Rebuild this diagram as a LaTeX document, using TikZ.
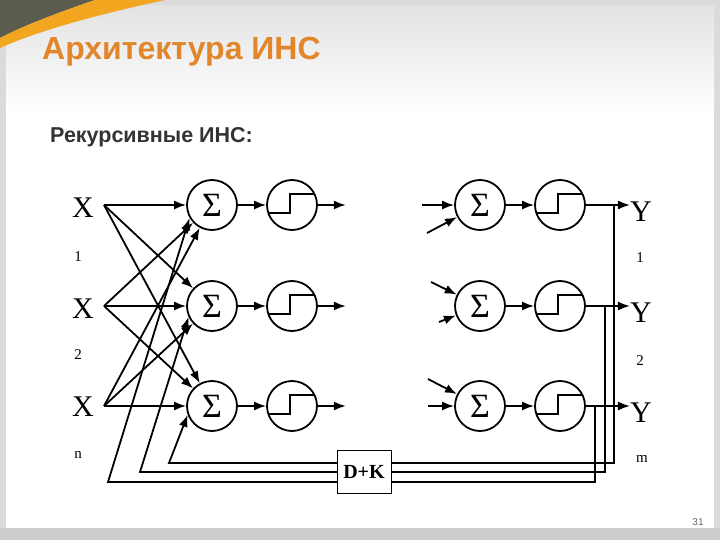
\documentclass[tikz,border=0pt]{standalone}
\usepackage{fontspec}
\setmainfont{Liberation Serif}
\newfontfamily\slidefont{Liberation Sans}
\usetikzlibrary{arrows.meta}

\definecolor{titleorange}{RGB}{226,134,44}
\definecolor{bandorange}{RGB}{242,166,32}
\definecolor{darkolive}{RGB}{92,92,78}
\definecolor{subgray}{RGB}{51,51,51}

\tikzset{
  neuron/.style={circle, draw, line width=1.8pt, minimum size=50pt, inner sep=0pt,
                 font=\fontsize{34}{34}\selectfont},
  wire/.style={line width=1.8pt},
  arr/.style={wire, -{Latex[length=12pt,width=9pt]}},
  lbl/.style={inner sep=0pt, font=\fontsize{30}{30}\selectfont},
  idx/.style={inner sep=0pt, font=\fontsize{15}{15}\selectfont},
}

\begin{document}
\begin{tikzpicture}[x=1pt, y=-1pt]
    \useasboundingbox (0,0) rectangle (720,540);
    % Slide:
    \fill[gray!28] (0,0) rectangle (720,540);
    \fill[white] (6,6) rectangle (714,528);
    \shade[top color=gray!22, bottom color=white] (6,6) rectangle (714,110);
    \fill[gray!40] (0,528) rectangle (720,540);
    \fill[darkolive] (0,0) -- (95,0) .. controls (60,12) and (25,25) .. (0,38) -- cycle;
    \fill[bandorange] (0,38) .. controls (25,25) and (60,12) .. (95,0) -- (165,0)
                      .. controls (100,14) and (40,30) .. (0,48) -- cycle;

    % Titles:
    \node[anchor=base west, inner sep=0pt, text=titleorange, font=\slidefont\bfseries\fontsize{32}{32}\selectfont]
        (title) at (42,60) {Архитектура ИНС};
    \node[anchor=base west, inner sep=0pt, text=subgray, font=\slidefont\bfseries\fontsize{21.5}{21.5}\selectfont]
        (subtitle) at (50,143) {Рекурсивные ИНС:};
    \node[inner sep=0pt, text=gray!80!black, font=\slidefont\fontsize{10}{10}\selectfont]
        (page) at (698,522) {31};

    % Neurons:
    \foreach \i/\r in {1/205, 2/306, 3/406} {
        \node[neuron] (sA\i) at (212,\r) {Σ};
        \node[neuron] (fA\i) at (292,\r) {};
        \node[neuron] (sB\i) at (480,\r) {Σ};
        \node[neuron] (fB\i) at (560,\r) {};
    }
    \foreach \n in {fA1, fA2, fA3, fB1, fB2, fB3}
        \draw[wire] ([shift={(-23.7,8)}]\n.center) -- ++(21.7,0) -- ++(0,-19) -- ++(24.1,0);

    % Inputs and outputs:
    \node[lbl] (x1) at (83,208) {X};
    \node[lbl] (x2) at (83,309) {X};
    \node[lbl] (x3) at (83,407) {X};
    \node[idx] (x1i) at (78,257) {1};
    \node[idx] (x2i) at (78,355) {2};
    \node[idx] (x3i) at (78,455) {n};
    \node[lbl] (y1) at (641,212) {Y};
    \node[lbl] (y2) at (641,313) {Y};
    \node[lbl] (y3) at (641,413) {Y};
    \node[idx] (y1i) at (640,258) {1};
    \node[idx] (y2i) at (640,361) {2};
    \node[idx] (y3i) at (642,459) {m};

    \coordinate (in1) at (104,205);
    \coordinate (in2) at (104,306);
    \coordinate (in3) at (104,406);
    \foreach \a in {1,2,3}
        \foreach \b in {1,2,3}
            \draw[arr] (in\a) -- (sA\b);

    \coordinate (rin1) at (422,205);
    \coordinate (rin2) at (427,233);
    \coordinate (rin3) at (431,282);
    \coordinate (rin4) at (439,322);
    \coordinate (rin5) at (428,379);
    \coordinate (rin6) at (428,406);
    \draw[arr] (rin1) -- (sB1);
    \draw[arr] (rin2) -- (sB1);
    \draw[arr] (rin3) -- (sB2);
    \draw[arr] (rin4) -- (sB2);
    \draw[arr] (rin5) -- (sB3);
    \draw[arr] (rin6) -- (sB3);

    \foreach \i in {1,2,3} {
        \draw[arr] (sA\i) -- (fA\i);
        \draw[arr] (fA\i.east) -- ++(28,0);
        \draw[arr] (sB\i) -- (fB\i);
        \draw[arr] (fB\i.east) -- (fB\i.east -| y\i.west);
    }

    % Feedback:
    \coordinate (tap1) at (614,205);
    \coordinate (tap2) at (605,306);
    \coordinate (tap3) at (595,406);
    \coordinate (fb1) at (108,482);
    \coordinate (fb2) at (140,472);
    \coordinate (fb3) at (169,463);
    \draw[arr] (tap3) |- (fb1) -- (sA1.210);
    \draw[arr] (tap2) |- (fb2) -- (sA2.205);
    \draw[arr] (tap1) |- (fb3) -- (sA3.200);

    \node[draw, fill=white, line width=1pt, minimum width=54pt, minimum height=43pt, inner sep=0pt,
          font=\bfseries\fontsize{20}{20}\selectfont] (dk) at (364,472) {D+K};
\end{tikzpicture}
\end{document}
